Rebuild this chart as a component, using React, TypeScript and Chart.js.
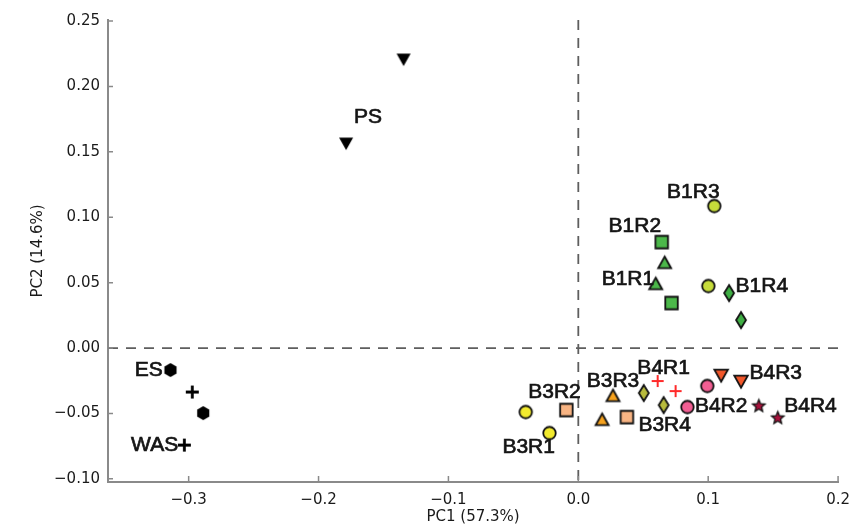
import React, { useEffect, useRef } from "react";
import { Chart, registerables } from "chart.js";

Chart.register(...registerables);

// ---- data ----
const PS_X = [-0.1345, -0.1788];
const PS_Y = [0.2209, 0.1567];
const ES_X = [-0.314, -0.2888];
const ES_Y = [-0.0168, -0.0497];
const WAS_X = [-0.2972, -0.3033];
const WAS_Y = [-0.0336, -0.0742];
const B1R1_X = [0.0665, 0.0596];
const B1R1_Y = [0.065, 0.0489];
const B1R2_X = [0.0642, 0.0718];
const B1R2_Y = [0.081, 0.0344];
const B1R3_X = [0.1047, 0.1001];
const B1R3_Y = [0.1086, 0.0474];
const B1R4_X = [0.1161, 0.1253];
const B1R4_Y = [0.042, 0.0214];
const B3R1_X = [-0.0405, -0.0222];
const B3R1_Y = [-0.0489, -0.065];
const B3R2_X = [-0.0092, 0.0374];
const B3R2_Y = [-0.0474, -0.0528];
const B3R3_X = [0.0267, 0.0183];
const B3R3_Y = [-0.0367, -0.055];
const B3R4_X = [0.0504, 0.0657];
const B3R4_Y = [-0.0344, -0.0436];
const B4R1_X = [0.0611, 0.0749];
const B4R1_Y = [-0.0252, -0.0329];
const B4R2_X = [0.0993, 0.084];
const B4R2_Y = [-0.029, -0.0451];
const B4R3_X = [0.11, 0.1253];
const B4R3_Y = [-0.0206, -0.0252];
const B4R4_X = [0.139, 0.1536];
const B4R4_Y = [-0.0443, -0.0535];

const LABEL_TEXT = ["PS", "ES", "WAS", "B1R3", "B1R2", "B1R1", "B1R4", "B3R2", "B3R1", "B3R3", "B4R1", "B3R4", "B4R2", "B4R3", "B4R4"];
const LABEL_X = [-0.162, -0.3308, -0.3262, 0.0886, 0.0435, 0.0382, 0.1413, -0.0183, -0.0382, 0.0267, 0.0657, 0.0665, 0.11, 0.152, 0.1788];
const LABEL_Y = [0.1766, -0.0168, -0.0742, 0.1193, 0.0933, 0.0528, 0.0474, -0.0336, -0.0757, -0.0252, -0.0153, -0.0589, -0.0443, -0.0191, -0.0443];

const X_TICKS = [-0.3, -0.2, -0.1, 0.0, 0.1, 0.2];
const Y_TICKS = [-0.1, -0.05, 0.0, 0.05, 0.1, 0.15, 0.2, 0.25];
const X_MIN = -0.3621;
const X_MAX = 0.2;
const Y_MIN = -0.1024;
const Y_MAX = 0.2508;

const X_TITLE = "PC1 (57.3%)";
const Y_TITLE = "PC2 (14.6%)";

// ---- marker images ----
type Shape = "circle" | "square" | "tri" | "tridown" | "diamond" | "hexagon" | "plus" | "star";

function makeMarker(shape: Shape, size: number, fill: string, stroke: string | null, lw: number): HTMLCanvasElement {
  const pad = 3;
  const c = document.createElement("canvas");
  const w = Math.ceil(size + pad * 2);
  c.width = w;
  c.height = w;
  const ctx = c.getContext("2d")!;
  const cx = w / 2;
  const cy = w / 2;
  const r = size / 2;
  ctx.beginPath();
  if (shape === "circle") {
    ctx.arc(cx, cy, r, 0, Math.PI * 2);
  } else if (shape === "square") {
    ctx.rect(cx - r, cy - r, size, size);
  } else if (shape === "tri") {
    ctx.moveTo(cx, cy - r);
    ctx.lineTo(cx + r, cy + r * 0.8);
    ctx.lineTo(cx - r, cy + r * 0.8);
    ctx.closePath();
  } else if (shape === "tridown") {
    ctx.moveTo(cx - r, cy - r * 0.8);
    ctx.lineTo(cx + r, cy - r * 0.8);
    ctx.lineTo(cx, cy + r);
    ctx.closePath();
  } else if (shape === "diamond") {
    ctx.moveTo(cx, cy - r);
    ctx.lineTo(cx + r * 0.62, cy);
    ctx.lineTo(cx, cy + r);
    ctx.lineTo(cx - r * 0.62, cy);
    ctx.closePath();
  } else if (shape === "hexagon") {
    for (let i = 0; i < 6; i++) {
      const a = Math.PI / 2 + (i * Math.PI) / 3;
      const px = cx + r * Math.cos(a);
      const py = cy + r * Math.sin(a);
      if (i === 0) ctx.moveTo(px, py);
      else ctx.lineTo(px, py);
    }
    ctx.closePath();
  } else if (shape === "star") {
    for (let i = 0; i < 10; i++) {
      const a = -Math.PI / 2 + (i * Math.PI) / 5;
      const rr = i % 2 === 0 ? r : r * 0.45;
      const px = cx + rr * Math.cos(a);
      const py = cy + rr * Math.sin(a);
      if (i === 0) ctx.moveTo(px, py);
      else ctx.lineTo(px, py);
    }
    ctx.closePath();
  }
  if (shape === "plus") {
    ctx.moveTo(cx - r, cy);
    ctx.lineTo(cx + r, cy);
    ctx.moveTo(cx, cy - r);
    ctx.lineTo(cx, cy + r);
    ctx.strokeStyle = fill;
    ctx.lineWidth = lw;
    ctx.stroke();
    return c;
  }
  ctx.fillStyle = fill;
  ctx.fill();
  if (stroke) {
    ctx.strokeStyle = stroke;
    ctx.lineWidth = lw;
    ctx.lineJoin = "miter";
    ctx.stroke();
  }
  return c;
}

function pts(xs: number[], ys: number[]) {
  return xs.map((x, i) => ({ x, y: ys[i] }));
}

const fmtMinus = (s: string) => s.replace("-", "\u2212");

export default function App() {
  const ref = useRef<HTMLCanvasElement | null>(null);

  useEffect(() => {
    if (!ref.current) return;
    const K = "#111111";
    const groups: { xs: number[]; ys: number[]; img: HTMLCanvasElement }[] = [
      { xs: PS_X, ys: PS_Y, img: makeMarker("tridown", 14, "#000000", null, 0) },
      { xs: ES_X, ys: ES_Y, img: makeMarker("hexagon", 14, "#000000", null, 0) },
      { xs: WAS_X, ys: WAS_Y, img: makeMarker("plus", 13, "#000000", null, 2.8) },
      { xs: B1R1_X, ys: B1R1_Y, img: makeMarker("tri", 13, "#4cb84a", K, 1.8) },
      { xs: B1R2_X, ys: B1R2_Y, img: makeMarker("square", 12.5, "#4cb84a", K, 1.8) },
      { xs: B1R3_X, ys: B1R3_Y, img: makeMarker("circle", 12.5, "#c6dc3a", K, 1.8) },
      { xs: B1R4_X, ys: B1R4_Y, img: makeMarker("diamond", 16, "#3fae44", K, 1.8) },
      { xs: B3R1_X, ys: B3R1_Y, img: makeMarker("circle", 12.5, "#f2ea2e", K, 1.8) },
      { xs: B3R2_X, ys: B3R2_Y, img: makeMarker("square", 12.5, "#f8b483", K, 1.8) },
      { xs: B3R3_X, ys: B3R3_Y, img: makeMarker("tri", 13, "#f6a21e", K, 1.8) },
      { xs: B3R4_X, ys: B3R4_Y, img: makeMarker("diamond", 16, "#b8bb3c", K, 1.8) },
      { xs: B4R1_X, ys: B4R1_Y, img: makeMarker("plus", 12, "#ff2a2a", null, 2) },
      { xs: B4R2_X, ys: B4R2_Y, img: makeMarker("circle", 12.5, "#f25e93", K, 1.8) },
      { xs: B4R3_X, ys: B4R3_Y, img: makeMarker("tridown", 13.5, "#f2572a", K, 1.8) },
      { xs: B4R4_X, ys: B4R4_Y, img: makeMarker("star", 13, "#a8123c", K, 1.3) },
    ];

    const zeroLines = {
      id: "zeroLines",
      beforeDatasetsDraw(chart: any) {
        const { ctx, chartArea, scales } = chart;
        const x0 = scales.x.getPixelForValue(0);
        const y0 = scales.y.getPixelForValue(0);
        ctx.save();
        ctx.strokeStyle = "#5e5e5e";
        ctx.lineWidth = 1.8;
        ctx.setLineDash([10, 8]);
        ctx.beginPath();
        ctx.moveTo(x0, chartArea.top);
        ctx.lineTo(x0, chartArea.bottom);
        ctx.moveTo(chartArea.left, y0);
        ctx.lineTo(chartArea.right, y0);
        ctx.stroke();
        ctx.restore();
      },
    };

    const innerTicks = {
      id: "innerTicks",
      afterDraw(chart: any) {
        const { ctx, chartArea, scales } = chart;
        ctx.save();
        ctx.strokeStyle = "#8a8a8a";
        ctx.lineWidth = 1.5;
        ctx.beginPath();
        X_TICKS.forEach((v) => {
          const px = scales.x.getPixelForValue(v);
          ctx.moveTo(px, chartArea.bottom);
          ctx.lineTo(px, chartArea.bottom - 6);
        });
        Y_TICKS.forEach((v) => {
          const py = scales.y.getPixelForValue(v);
          ctx.moveTo(chartArea.left, py);
          ctx.lineTo(chartArea.left + 5, py);
        });
        ctx.stroke();
        ctx.restore();
      },
    };

    const labels = {
      id: "pointLabels",
      afterDatasetsDraw(chart: any) {
        const { ctx, scales } = chart;
        ctx.save();
        ctx.fillStyle = "#151515";
        ctx.strokeStyle = "#151515";
        ctx.lineWidth = 0.7;
        ctx.font = '21px "Liberation Sans", Arial, sans-serif';
        ctx.textAlign = "center";
        ctx.textBaseline = "middle";
        LABEL_TEXT.forEach((t, i) => {
          const px = scales.x.getPixelForValue(LABEL_X[i]);
          const py = scales.y.getPixelForValue(LABEL_Y[i]);
          ctx.fillText(t, px, py);
          ctx.strokeText(t, px, py);
        });
        ctx.restore();
      },
    };

    const tickFont = { family: '"DejaVu Sans", sans-serif', size: 15 };

    const chart = new Chart(ref.current, {
      type: "scatter",
      data: {
        datasets: groups.map((g) => ({
          data: pts(g.xs, g.ys),
          pointStyle: g.img as any,
          pointRadius: 7,
          pointHoverRadius: 7,
          showLine: false,
        })),
      },
      options: {
        animation: false,
        responsive: false,
        events: [],
        layout: { padding: { top: 20, right: 15, left: 0, bottom: 0 } },
        plugins: { legend: { display: false }, tooltip: { enabled: false } },
        scales: {
          x: {
            type: "linear",
            min: X_MIN,
            max: X_MAX,
            afterBuildTicks: (s: any) => {
              s.ticks = X_TICKS.map((v) => ({ value: v }));
            },
            afterFit: (s: any) => {
              s.height = 48;
            },
            grid: { display: false, drawTicks: false },
            border: { display: true, color: "#8a8a8a", width: 2 },
            ticks: {
              padding: 9,
              color: "#1a1a1a",
              font: tickFont,
              maxRotation: 0,
              autoSkip: false,
              callback: (v: any) => fmtMinus(Number(v).toFixed(1)),
            },
            title: {
              display: true,
              text: X_TITLE,
              color: "#1a1a1a",
              font: tickFont,
              padding: { top: 0, bottom: 4 },
            },
          },
          y: {
            type: "linear",
            min: Y_MIN,
            max: Y_MAX,
            afterBuildTicks: (s: any) => {
              s.ticks = Y_TICKS.map((v) => ({ value: v }));
            },
            afterFit: (s: any) => {
              s.width = 108;
            },
            grid: { display: false, drawTicks: false },
            border: { display: true, color: "#8a8a8a", width: 2 },
            ticks: {
              padding: 8,
              color: "#1a1a1a",
              font: tickFont,
              autoSkip: false,
              callback: (v: any) => fmtMinus(Number(v).toFixed(2)),
            },
            title: {
              display: true,
              text: Y_TITLE,
              color: "#1a1a1a",
              font: tickFont,
              padding: { top: 29, bottom: 0 },
            },
          },
        },
      },
      plugins: [zeroLines, innerTicks, labels],
    } as any);

    return () => chart.destroy();
  }, []);

  return (
    <div style={{ position: "absolute", left: 0, top: 0, width: 859, height: 530, background: "#ffffff" }}>
      <canvas ref={ref} width={859} height={530} style={{ display: "block", width: 859, height: 530 }} />
    </div>
  );
}
